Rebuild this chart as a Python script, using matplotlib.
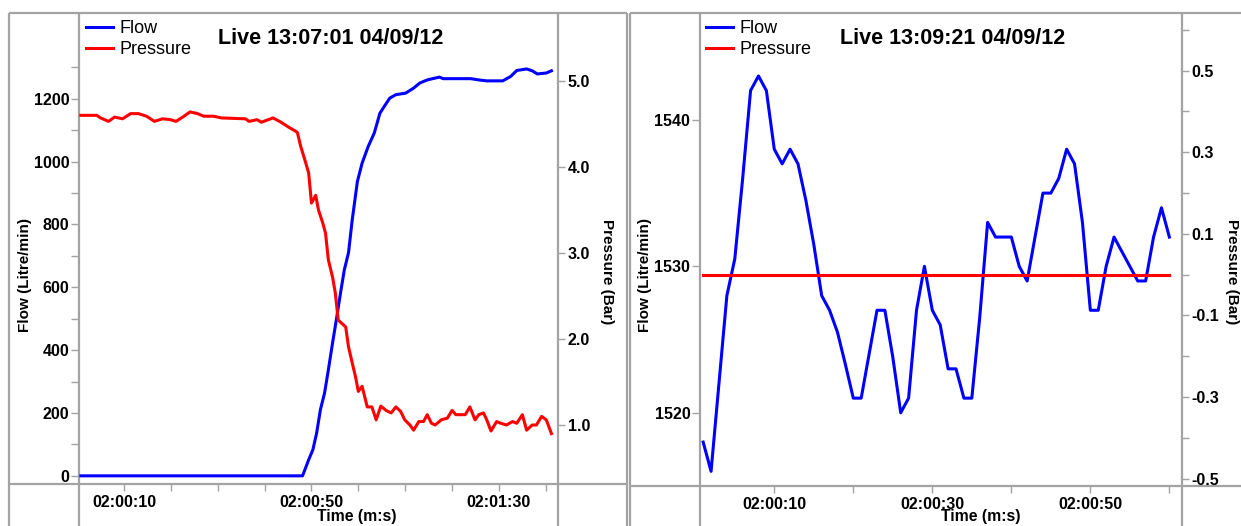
import matplotlib
matplotlib.use("Agg")
import matplotlib.pyplot as plt
from matplotlib.lines import Line2D
from matplotlib.ticker import FixedLocator, FuncFormatter, NullFormatter

plt.rcParams['font.family'] = ['Liberation Sans', 'DejaVu Sans']

W, H = 1241, 526
FRAME_GREY = '#a3a3a3'
FLOW_BLUE = '#0000ff'
PRES_RED = '#ff0000'

# ---- Session 1: valve opening (Live 13:07:01) ----
s1_title = "Live 13:07:01 04/09/12"
s1_flow_t = [0.8, 48.1, 49.4, 50.3, 51.1, 51.9, 52.8, 53.6, 54.5, 55.3, 56.2, 57.0,
             57.9, 58.7, 59.8, 60.8, 62.1, 63.4, 64.6, 65.5, 66.7, 68.0, 70.1, 71.8,
             73.1, 74.7, 77.3, 78.1, 84.0, 85.7, 87.4, 90.8, 92.5, 93.8, 95.9, 97.1,
             98.2, 100.1, 101.2]
s1_flow = [0, 0, 51, 83, 136, 210, 264, 337, 423, 496, 582, 655,
           710, 815, 937, 995, 1048, 1091, 1154, 1175, 1202, 1213, 1218, 1234,
           1250, 1260, 1269, 1264, 1264, 1260, 1257, 1257, 1271, 1290, 1295, 1289,
           1279, 1282, 1289]
s1_pres_t = [0.8, 4.2, 5.0, 6.7, 8.0, 9.7, 11.4, 13.1, 14.8, 16.5, 18.2, 19.9,
             21.1, 22.8, 24.1, 25.7, 27.0, 29.1, 30.8, 35.9, 36.7, 38.4, 39.3, 41.8,
             43.5, 45.2, 46.5, 47.0, 47.7, 48.6, 49.4, 50.0, 50.9, 51.5, 52.4, 53.0,
             53.6, 54.5, 55.1, 55.7, 56.3, 57.3, 57.9, 58.7, 59.4, 60.0, 60.8, 61.9,
             62.9, 63.8, 64.8, 65.9, 67.0, 68.0, 69.0, 69.9, 71.0, 71.8, 72.9, 73.9,
             74.7, 75.6, 76.4, 77.7, 79.0, 80.0, 80.8, 81.9, 82.8, 83.8, 84.9, 85.7,
             86.7, 87.4, 88.3, 89.5, 90.4, 91.6, 92.9, 93.8, 95.0, 95.9, 97.1, 98.0,
             99.1, 100.1, 101.2]
s1_pres = [4.60, 4.60, 4.57, 4.53, 4.58, 4.56, 4.62, 4.62, 4.59, 4.53, 4.56, 4.55,
           4.53, 4.59, 4.64, 4.62, 4.59, 4.59, 4.57, 4.56, 4.53, 4.55, 4.52, 4.57,
           4.52, 4.46, 4.42, 4.40, 4.24, 4.08, 3.93, 3.58, 3.67, 3.50, 3.35, 3.23,
           2.92, 2.72, 2.53, 2.22, 2.19, 2.14, 1.91, 1.72, 1.56, 1.39, 1.45, 1.21,
           1.21, 1.06, 1.22, 1.17, 1.14, 1.21, 1.16, 1.06, 1.00, 0.94, 1.04, 1.04,
           1.12, 1.02, 1.00, 1.06, 1.08, 1.17, 1.12, 1.12, 1.12, 1.21, 1.06, 1.12,
           1.14, 1.06, 0.93, 1.04, 1.02, 1.00, 1.04, 1.02, 1.12, 0.94, 1.00, 1.00,
           1.10, 1.06, 0.90]

# ---- Session 2: steady flow (Live 13:09:21) ----
s2_title = "Live 13:09:21 04/09/12"
s2_t = list(range(1, 61))
s2_flow = [1518, 1516, 1522, 1528, 1530.5, 1536, 1542, 1543, 1542, 1538,
           1537, 1538, 1537, 1534.5, 1531.5, 1528, 1527, 1525.5, 1523.3, 1521,
           1521, 1524, 1527, 1527, 1523.8, 1520, 1521, 1527, 1530, 1527,
           1526, 1523, 1523, 1521, 1521, 1526.5, 1533, 1532, 1532, 1532,
           1530, 1529, 1532, 1535, 1535, 1536, 1538, 1537, 1533, 1527,
           1527, 1530, 1532, 1531, 1530, 1529, 1529, 1532, 1534, 1532]
s2_pres = [0.0] * 60

fig = plt.figure(figsize=(W / 100, H / 100), dpi=100)


def px_rect(x0, y0, x1, y1):
    return [x0 / W, 1 - y1 / H, (x1 - x0) / W, (y1 - y0) / H]


def frame_line(x0, y0, x1, y1):
    fig.add_artist(Line2D([x0 / W, x1 / W], [1 - y0 / H, 1 - y1 / H],
                          transform=fig.transFigure, color=FRAME_GREY, lw=1.6,
                          solid_capstyle='butt', zorder=0))


def clock(v, _pos):
    s = int(round(v))
    return f"02:{s // 60:02d}:{s % 60:02d}"


def panel(plot_box, frame_box, axis_y, t_flow, flow, t_pres, pres, title,
          time_lim, flow_lim, pres_lim, x_major, x_minor, f_major, f_minor,
          p_major, p_minor, title_x, legend_x, time_label_x, flow_label_x,
          pres_label_x):
    x0, y0, x1 = plot_box
    fx0, fx1 = frame_box
    ax = fig.add_axes(px_rect(x0, y0, x1, axis_y))
    ax.patch.set_alpha(0)
    for s in ax.spines.values():
        s.set_visible(False)
    ax.plot(t_flow, flow, color=FLOW_BLUE, lw=2.2, label="Flow",
            solid_joinstyle='round')
    ax.set_xlim(*time_lim)
    ax.set_ylim(*flow_lim)

    ax2 = ax.twinx()
    for s in ax2.spines.values():
        s.set_visible(False)
    ax2.plot(t_pres, pres, color=PRES_RED, lw=2.2, label="Pressure",
             solid_joinstyle='round')
    ax2.set_ylim(*pres_lim)

    tick_kw = dict(direction='out', color=FRAME_GREY, width=1.0, labelsize=11.5,
                   labelcolor='black')
    ax.xaxis.set_major_locator(FixedLocator(x_major))
    ax.xaxis.set_minor_locator(FixedLocator(x_minor))
    ax.xaxis.set_major_formatter(FuncFormatter(clock))
    ax.xaxis.set_minor_formatter(NullFormatter())
    ax.tick_params(axis='x', which='both', length=5, pad=3, **tick_kw)

    ax.yaxis.set_major_locator(FixedLocator(f_major))
    ax.yaxis.set_minor_locator(FixedLocator(f_minor))
    ax.yaxis.set_major_formatter(FuncFormatter(lambda v, _p: f"{v:.0f}"))
    ax.tick_params(axis='y', which='both', length=6, pad=1, **tick_kw)

    ax2.yaxis.set_major_locator(FixedLocator(p_major))
    ax2.yaxis.set_minor_locator(FixedLocator(p_minor))
    ax2.yaxis.set_major_formatter(FuncFormatter(lambda v, _p: f"{v:.1f}"))
    ax2.yaxis.set_minor_formatter(NullFormatter())
    ax2.tick_params(axis='y', which='both', length=5, pad=2, **tick_kw)

    for lab in ax.get_xticklabels() + ax.get_yticklabels() + ax2.get_yticklabels():
        lab.set_fontweight('bold')

    # frame: outer border, x-axis rule and the two value-axis rules
    frame_line(fx0, 13, fx1, 13)
    frame_line(fx0, 13, fx0, H)
    if fx1 < W:
        frame_line(fx1, 13, fx1, H)
    frame_line(fx0, axis_y, fx1, axis_y)
    frame_line(x0, 13, x0, H)
    frame_line(x1, 13, x1, H)

    h1, l1 = ax.get_legend_handles_labels()
    h2, l2 = ax2.get_legend_handles_labels()
    ax2.legend(h1 + h2, l1 + l2, loc='upper left',
               bbox_to_anchor=(legend_x / W, 1 - 20 / H),
               bbox_transform=fig.transFigure, frameon=False, borderpad=0,
               borderaxespad=0, handlelength=1.5, handletextpad=0.33,
               labelspacing=0.22, fontsize=13)

    fig.text(title_x / W, 1 - 38 / H, title, fontsize=15.5, fontweight='bold',
             ha='left', va='center')
    fig.text(time_label_x / W, 1 - 516 / H, "Time (m:s)", fontsize=11.3,
             fontweight='bold', ha='center', va='center')
    fig.text(flow_label_x / W, 1 - 275 / H, "Flow (Litre/min)", fontsize=11,
             fontweight='bold', ha='center', va='center', rotation=90)
    fig.text(pres_label_x / W, 1 - 272 / H, "Pressure (Bar)", fontsize=11,
             fontweight='bold', ha='center', va='center', rotation=270)


panel((79, 13, 558), (9, 627), 484, s1_flow_t, s1_flow, s1_pres_t, s1_pres,
      s1_title, (0.4, 102.6), (-26, 1473), (0.314, 5.79),
      [10, 50, 90], [20, 30, 40, 60, 70, 80, 100],
      [0, 200, 400, 600, 800, 1000, 1200], [100, 300, 500, 700, 900, 1100, 1300],
      [1.0, 2.0, 3.0, 4.0, 5.0], [],
      218, 86, 357, 25, 607)

panel((700, 13, 1182), (630, W), 486, s2_t, s2_flow, s2_t, s2_pres,
      s2_title, (0.6, 61.6), (1515.0, 1547.3), (-0.518, 0.641),
      [10, 30, 50], [20, 40, 60],
      [1520, 1530, 1540], [],
      [-0.5, -0.3, -0.1, 0.1, 0.3, 0.5], [-0.4, -0.2, 0.0, 0.2, 0.4, 0.6],
      840, 706, 981, 645, 1232)

fig.savefig("out.png", dpi=100)
